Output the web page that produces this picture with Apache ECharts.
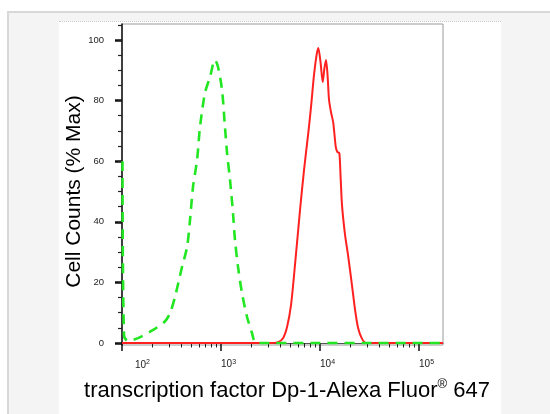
<!DOCTYPE html>
<html><head><meta charset="utf-8">
<script src="https://cdn.jsdelivr.net/npm/echarts@6/dist/echarts.min.js"></script>
<style>
html,body{margin:0;padding:0;background:#fff;overflow:hidden}
#bg{position:absolute;left:7px;top:11px;width:543px;height:403px;background:#f4f4f4;border-left:2px solid #d8d8d8;border-top:2px solid #d8d8d8;box-sizing:border-box}
#panel{position:absolute;left:59px;top:21px;width:442px;height:393px;background:#fff;border-top:1px dotted #c8c8c8;box-sizing:border-box}
#c{position:absolute;left:0;top:0;width:550px;height:414px}
</style>
</head><body>
<div id="bg"></div><div id="panel"></div>
<div id="c"></div>
<script>
// log10 fluorescence intensity and % of max cell counts
const redLog = [2.0, 3.475, 3.576, 3.626, 3.667, 3.707, 3.747, 3.798, 3.838, 3.879, 3.909, 3.939, 3.965, 3.983, 4.005, 4.027, 4.045, 4.061, 4.076, 4.091, 4.111, 4.134, 4.159, 4.175, 4.195, 4.207, 4.222, 4.253, 4.283, 4.320, 4.354, 4.384, 4.421, 4.465, 5.242];
const redPct = [0, 0, 0.3, 1.6, 5.3, 12.5, 25.7, 43.9, 57, 68.6, 77.9, 88.4, 95, 97.4, 92.7, 86.1, 90.8, 93.4, 88.4, 80.2, 76.2, 72.6, 64.7, 63, 62.7, 55.4, 45.5, 35.6, 29, 19.8, 10.9, 5, 1.6, 0, 0];
const greenLog = [2.005, 2.02, 2.06, 2.162, 2.313, 2.43, 2.485, 2.535, 2.606, 2.657, 2.687, 2.717, 2.758, 2.788, 2.838, 2.889, 2.939, 2.970, 3.010, 3.040, 3.061, 3.091, 3.121, 3.141, 3.172, 3.212, 3.263, 3.313, 3.343, 3.394, 5.242];
const greenPct = [60, 2.6, 0.7, 1.6, 4.3, 7.0, 9.9, 15.2, 25.1, 31.7, 40.6, 51.5, 60.4, 71.3, 82.5, 87.8, 93.4, 91.1, 83.5, 71.3, 62.7, 53.8, 42.9, 34, 25.1, 16.5, 8.6, 3.3, 0.3, 0, 0];
const xMajorExponents = [2, 3, 4, 5];
const yMajorValues = [0, 20, 40, 60, 80, 100];
const yMinorValues = [0, 5, 10, 15, 20, 25, 30, 35, 40, 45, 50, 55, 60, 65, 70, 75, 80, 85, 90, 95, 100, 105];
const xTitle = 'transcription factor Dp-1-Alexa Fluor';
const xTitleSup = '®';
const xTitleTail = ' 647';
const yTitle = 'Cell Counts (% Max)';

const xMin = 2.0, xMax = 5.242, yMin = -0.66, yMax = 105.28;
const xMinor = [];
for (let d = 2; d <= 5; d++) for (let k = 2; k <= 9; k++) {
  const v = d + Math.log10(k);
  if (v <= xMax) xMinor.push(v);
}
const pairs = (a, b) => a.map((v, i) => [v, b[i]]);
const font = 'Liberation Sans, Arial, sans-serif';

const chart = echarts.init(document.getElementById('c'), null, {renderer: 'canvas'});
chart.setOption({
  backgroundColor: 'transparent',
  animation: false,
  grid: {left: 122, top: 24, width: 321, height: 321, show: true, borderColor: '#9a9a9a', borderWidth: 1, backgroundColor: 'transparent'},
  xAxis: [{
    type: 'value', min: xMin, max: xMax, position: 'bottom',
    axisLine: {show: true, lineStyle: {color: '#555', width: 1}},
    splitLine: {show: false},
    axisTick: {show: true, customValues: xMajorExponents, length: 8, lineStyle: {color: '#111', width: 1.5}},
    axisLabel: {
      show: true, customValues: xMajorExponents, align: 'left', margin: 14,
      formatter: v => (v === 2 ? '{p|}' : '') + '{a|10}{s|' + v + '}',
      rich: {a: {fontSize: 10, fontFamily: font, color: '#222'}, s: {fontSize: 7, fontFamily: font, color: '#222', verticalAlign: 'top'}, p: {width: 13}}
    },
    name: '{t|' + xTitle + '}{s|' + xTitleSup + '}{t|' + xTitleTail + '}',
    nameLocation: 'middle', nameGap: 33, nameMoveOverlap: false,
    nameTextStyle: {padding: [0, 0, 0, 9], rich: {t: {fontSize: 22, fontFamily: font, color: '#000', lineHeight: 26}, s: {fontSize: 13, fontFamily: font, color: '#000', verticalAlign: 'top'}}}
  }, {
    type: 'value', min: xMin, max: xMax, position: 'bottom',
    axisLine: {show: false}, splitLine: {show: false}, axisLabel: {show: false},
    axisTick: {show: true, customValues: xMinor, length: 4.5, lineStyle: {color: '#222', width: 1}}
  }],
  yAxis: [{
    type: 'value', min: yMin, max: yMax, position: 'left',
    axisLine: {show: true, lineStyle: {color: '#111', width: 1.5}},
    splitLine: {show: false},
    axisTick: {show: true, customValues: yMajorValues, length: 7, lineStyle: {color: '#111', width: 2.5}},
    axisLabel: {show: true, customValues: yMajorValues, margin: 18, fontSize: 9.5, fontFamily: font, color: '#222'},
    name: yTitle, nameLocation: 'middle', nameGap: 37, nameMoveOverlap: false,
    nameTextStyle: {fontSize: 21, fontFamily: font, color: '#000', padding: [0, 14, 0, 0]}
  }, {
    type: 'value', min: yMin, max: yMax, position: 'left',
    axisLine: {show: false}, splitLine: {show: false}, axisLabel: {show: false},
    axisTick: {show: true, customValues: yMinorValues, length: 4, lineStyle: {color: '#222', width: 1.2}}
  }],
  series: [{
    type: 'line', xAxisIndex: 0, yAxisIndex: 0, data: pairs(redLog, redPct),
    showSymbol: false, smooth: 0.25, z: 3,
    lineStyle: {color: '#ff2020', width: 2}
  }, {
    type: 'line', xAxisIndex: 0, yAxisIndex: 0, data: pairs(greenLog, greenPct),
    showSymbol: false, smooth: 0.3, z: 4,
    lineStyle: {color: '#22e622', width: 2.6, type: [10, 7]}
  }]
});
</script>
</body></html>
